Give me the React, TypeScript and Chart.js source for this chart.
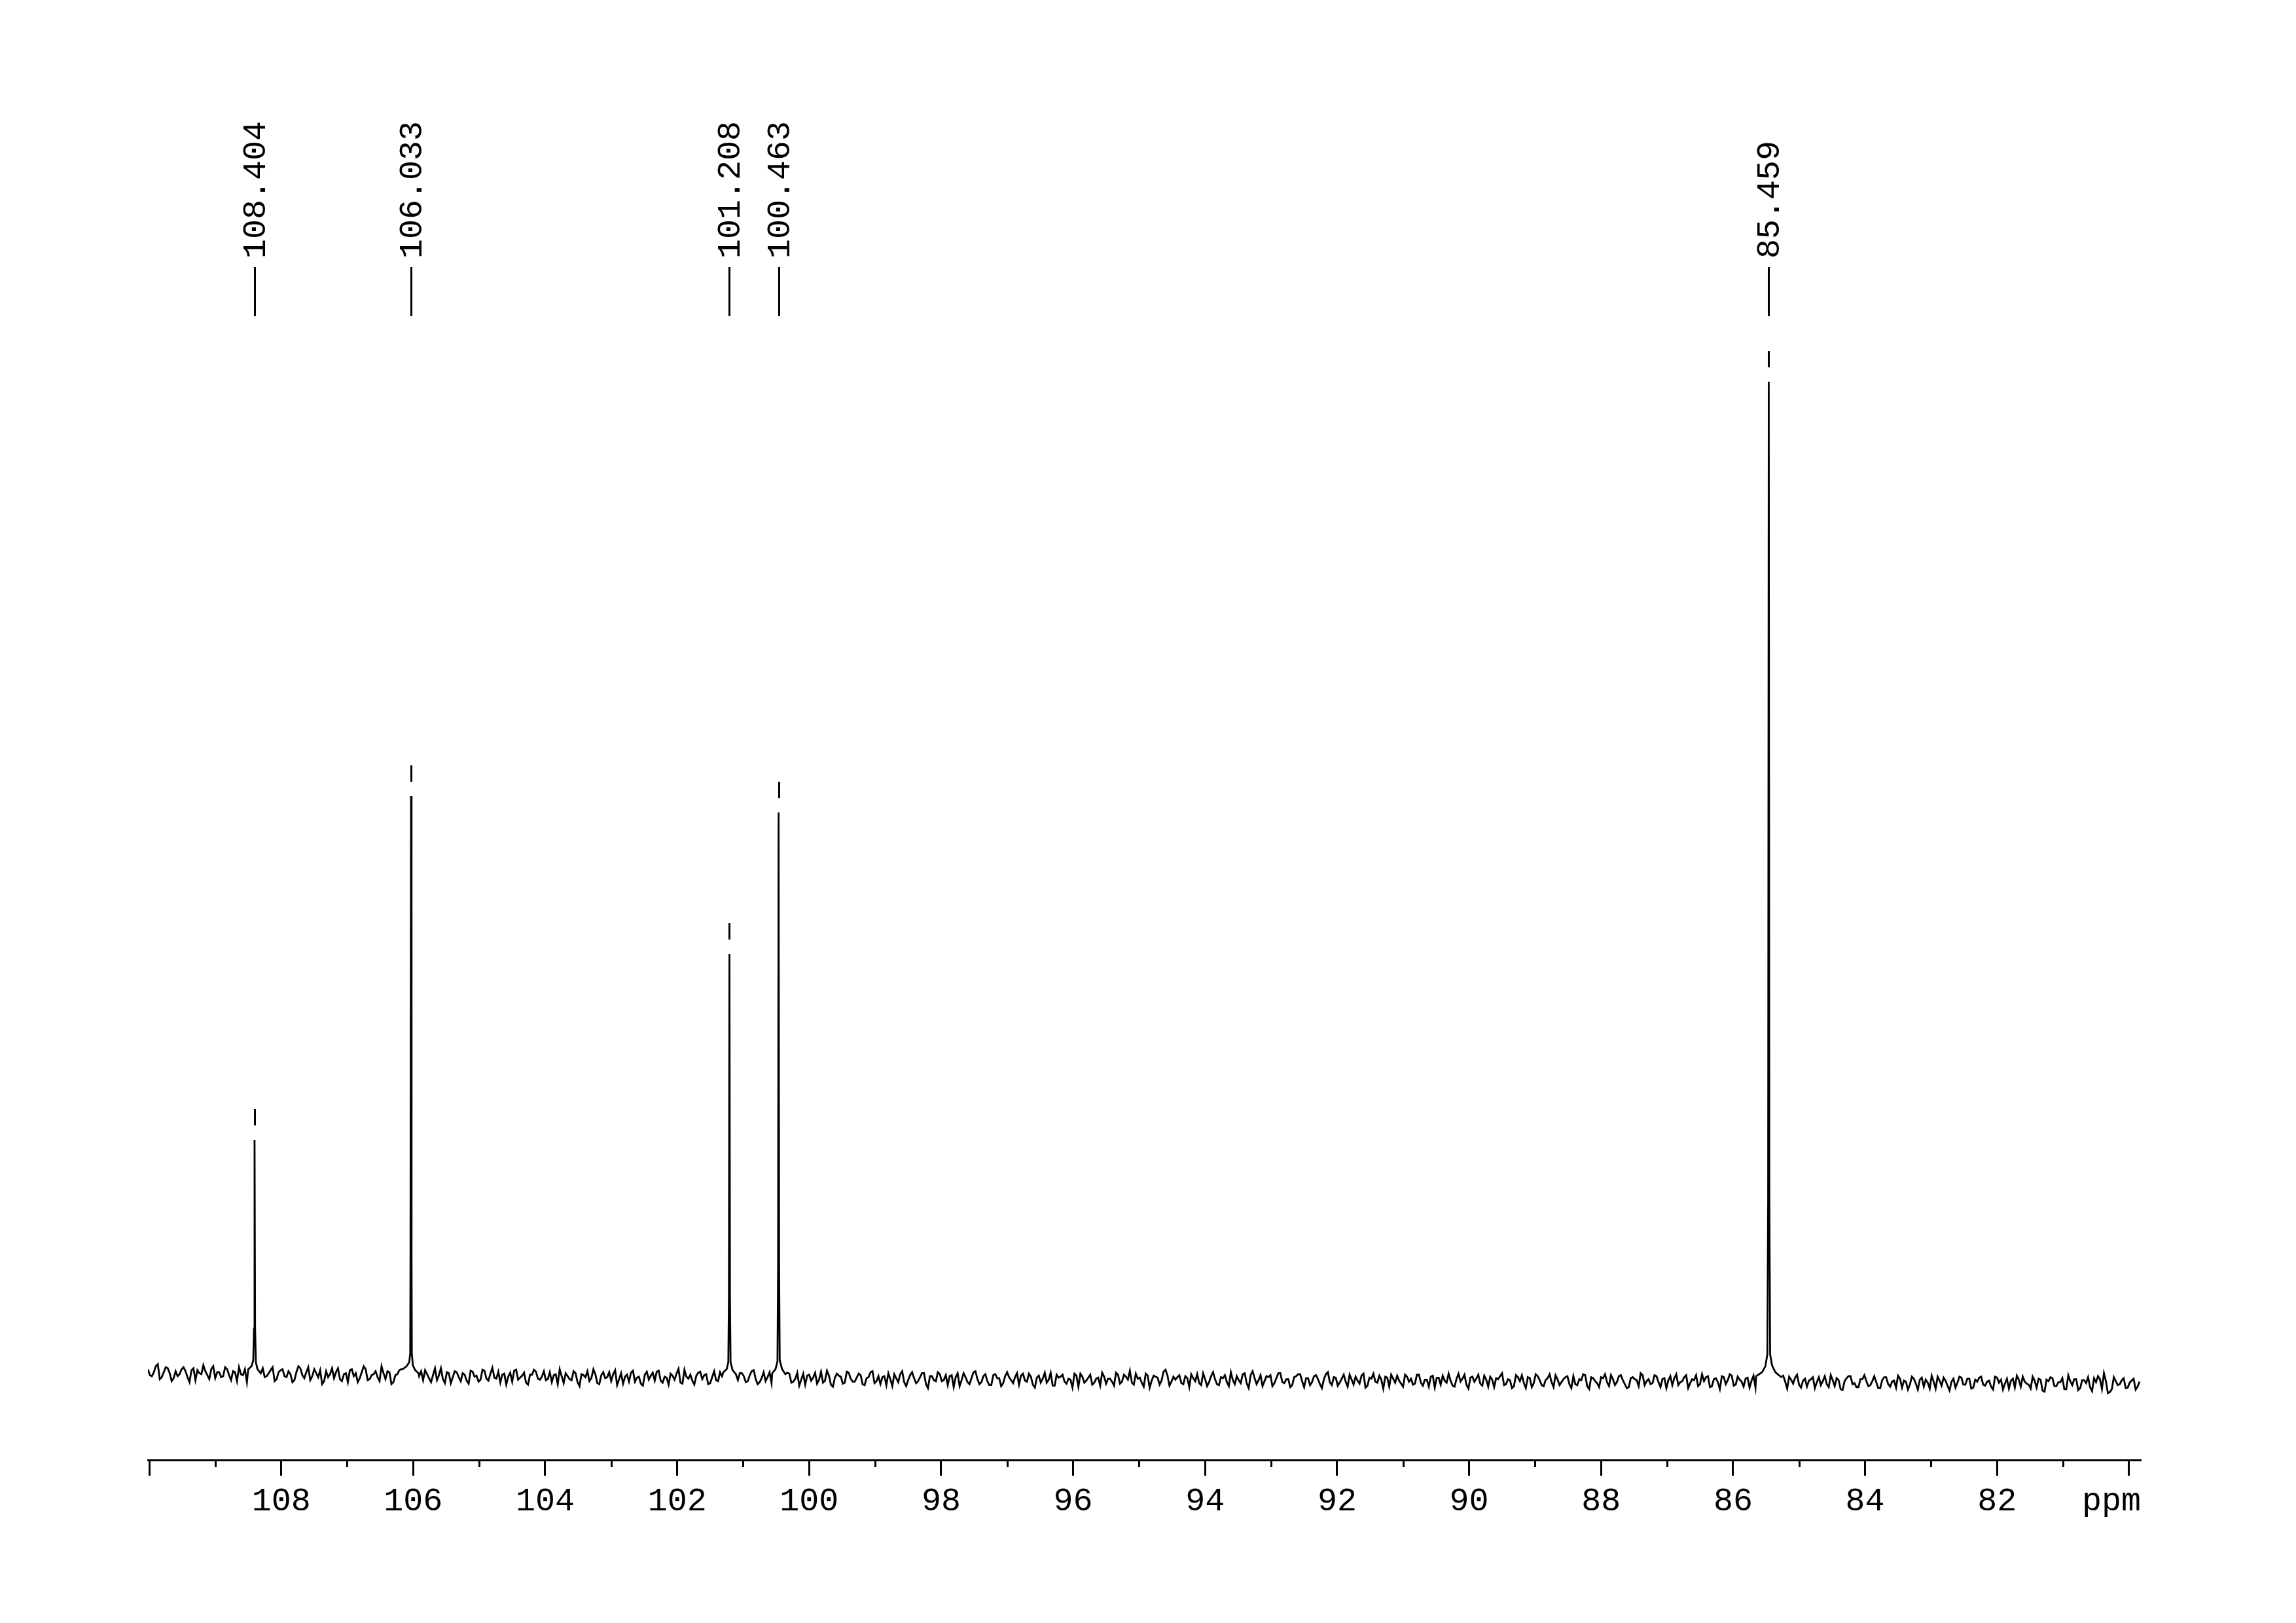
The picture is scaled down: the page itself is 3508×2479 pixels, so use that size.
import React, { useEffect, useRef } from 'react';
import { Chart, registerables } from 'chart.js';

Chart.register(...registerables);

// ---- Data ----
const X_MIN = 79.82;
const X_MAX = 110.02;
const Y_MIN = -8.22;
const Y_MAX = 111.78;

const PEAK_LABELS = ['108.404', '106.033', '101.208', '100.463', '85.459'];
const PEAK_PPM = [108.404, 106.033, 101.208, 100.463, 85.459];
const PEAK_HEIGHT = [23.95, 58.49, 42.63, 56.84, 100.13];

// explicit [ppm, intensity] points describing each peak and its wings
const PEAK_108 = [[108.5, 0.9], [108.45, 1.2], [108.424, 1.8], [108.412, 5.0], [108.404, 23.95], [108.396, 5.0], [108.384, 1.6], [108.36, 0.9], [108.31, 0.5]];
const PEAK_106 = [[106.16, 0.9], [106.1, 1.2], [106.06, 1.6], [106.045, 2.5], [106.041, 12], [106.033, 58.49], [106.025, 12], [106.021, 2.5], [106.005, 1.3], [105.97, 0.8], [105.92, 0.5]];
const PEAK_101 = [[101.3, 0.6], [101.25, 0.9], [101.225, 1.6], [101.216, 8], [101.208, 42.63], [101.2, 8], [101.191, 1.6], [101.16, 0.8], [101.11, 0.4]];
const PEAK_100 = [[100.56, 0.5], [100.51, 0.9], [100.48, 1.7], [100.471, 11], [100.463, 56.84], [100.455, 11], [100.446, 1.8], [100.41, 0.9], [100.36, 0.4]];
const PEAK_85 = [[85.65, 0.2], [85.56, 0.6], [85.51, 1.2], [85.48, 2.4], [85.468, 18], [85.459, 100.13], [85.45, 18], [85.438, 2.4], [85.41, 1.3], [85.36, 0.6], [85.27, 0.1]];

// baseline noise, sampled every NOISE_STEP ppm starting at NOISE_START (A),
// and half a step later (B)
const NOISE_START = 110.02;
const NOISE_STEP = 0.06;
const NOISE_A = [
  0.4, -0.3, 0.7, -0.6, 0.1, 0.5, -0.8, 0.2, -0.1, 0.6, -0.4, 0.3, -0.7, 0.0, 0.8, -0.2, 0.4, -0.5, 0.1, -0.3,
  0.5, -0.6, 0.2, 0.7, -0.1, -0.8, 0.3, 0.1, -0.4, 0.6, -0.2, 0.4, -0.7, 0.2, 0.5, -0.3, 0.0, -0.6, 0.8, -0.1,
  0.3, -0.5, 0.6, -0.2, -0.9, 0.4, 0.1, -0.3, 0.7, -0.6, 0.2, 0.5, -0.1, -0.7, 0.3, 0.6, -0.4, 0.1, -0.2, 0.9,
  -0.3, 0.4, -0.6, 0.2, 0.7, -0.5, 0.0, 0.3, -0.8, 0.5, 0.6, -0.2, 0.1, -0.4, 0.8, -0.7, 0.3, -0.1, 0.4, -0.5,
  0.2, -0.7, 0.5, 0.1, -0.3, 0.6, -0.4, 0.9, -0.2, -0.6, 0.3, 0.0, -0.5, 0.7, -0.1, 0.4, -0.8, 0.2, 0.5, -0.3,
  0.6, -0.2, -0.5, 0.3, 0.8, -0.6, 0.1, -0.3, 0.4, -0.9, 0.2, 0.6, -0.1, 0.3, -0.7, 0.5, 0.0, -0.4, 0.7, -0.2,
  -0.6, 0.3, 0.5, -0.4, 0.1, -0.8, 0.6, 0.2, -0.3, 0.7, -0.5, 0.0, 0.4, -0.2, 0.9, -0.6, 0.1, 0.3, -0.7, 0.5,
  -0.1, 0.4, -0.5, 0.7, -0.3, 0.2, 0.6, -0.8, 0.1, -0.2, 0.5, -0.4, 0.3, 0.8, -0.6, 0.0, -0.3, 0.6, -0.1, 0.4,
  -0.7, 0.2, 0.5, -0.3, 0.6, -0.1, -0.6, 0.4, 0.1, -0.5, 0.7, -0.2, 0.3, -0.8, 0.5, 0.2, -0.4, 0.6, -0.3, 0.1,
  0.4, -0.6, 0.2, 0.8, -0.2, -0.5, 0.3, 0.6, -0.7, 0.1, 0.5, -0.3, -0.1, 0.7, -0.4, 0.2, 0.6, -0.9, 0.3, -0.2,
  0.5, -0.1, -0.6, 0.4, 0.2, -0.7, 0.6, -0.3, 0.1, 0.8, -0.5, 0.3, -0.2, -0.6, 0.5, 0.1, -0.4, 0.7, -0.1, 0.2,
  -0.5, 0.6, -0.2, 0.3, -0.8, 0.4, 0.1, -0.3, 0.7, -0.6, 0.2, 0.5, -0.4, 0.0, 0.6, -0.7, 0.3, -0.1, 0.5, -0.3,
  0.2, 0.7, -0.4, 0.1, -0.6, 0.5, -0.2, 0.3, 0.9, -0.5, 0.1, -0.3, 0.6, -0.8, 0.4, 0.2, -0.1, 1.0, -0.6, 0.3,
  0.3, -0.3, 0.4, -0.7, 0.2, 0.6, -0.5, 0.1, -0.2, 0.8, -0.4, 0.3, 0.5, -0.6, 0.0, 0.4, -0.3, 0.7, -0.8, 0.9,
  -0.4, 0.5, -0.1, 0.3, -0.6, 0.2, 0.7, -0.3, 0.1, -0.5, 0.4, 0.6, -0.7, 0.2, -0.2, 0.5, -0.4, 0.1, 0.8, -0.5,
  0.3, -0.2, 0.6, -0.6, 0.1, 0.4, -0.3, 0.7, -0.5, 0.2, -0.1, 0.5, -0.8, 0.3, 0.6, -0.2, 0.0, -0.6, 0.4, 0.2,
  -0.3, 0.6, -0.5, 0.1, 0.4, -0.7, 0.3, 0.5, -0.2, 0.0, -0.6, 0.7, 0.2, -0.4, 0.3, -0.1, 0.6, -0.5, 0.1, 0.4,
  -0.6, 0.2, 0.8, -0.3, 0.1, -0.5, 0.4, 0.6, -0.7, 0.3, -0.2, 0.5, -0.4, 0.1, 0.7, -0.6, 0.2, -0.1, 0.4, -0.3,
  0.5, -0.4, 0.1, 0.6, -0.8, 0.3, -0.2, 0.4, 0.7, -0.5, 0.2, -0.1, 0.6, -0.3, -0.6, 0.4, 0.1, 0.8, -0.4, 0.2,
  -0.2, 0.5, -0.6, 0.3, 0.1, -0.4, 0.7, -0.1, 0.4, -0.7, 0.2, 0.6, -0.3, 0.0, 0.5, -0.5, 0.3, -0.8, 0.4, 0.1,
  0.6, -0.3, 0.2, -0.5, 0.4, 0.1, -0.6, 0.7, -0.2, 0.3, -0.4, 0.5, -0.1, 0.6, -0.7, 0.2, 0.4, -0.3, 0.1, -0.5,
  0.3, -0.6, 0.5, 0.1, -0.2, 0.7, -0.4, 0.2, -0.8, 0.4, 0.6, -0.1, -0.5, 0.3, 0.1, -0.3, 0.6, -0.6, 0.2, 0.5,
  -0.4, 0.2, 0.7, -0.5, 0.1, -0.2, 0.4, -0.7, 0.5, 0.3, -0.6, 0.1, 0.6, -0.3, 0.2, -0.8, 0.4, 0.0, 0.5, -0.2,
  0.4, -0.5, 0.1, 0.6, -0.3, 0.2, -0.7, 0.5, 0.3, -0.1, -0.6, 0.4, 0.7, -0.4, 0.1, -0.2, 0.6, -0.5, 0.3, -0.9,
  0.2, 0.5, -0.3, 0.1, -0.6, 0.8, -0.2, 0.4, -0.5, 0.3, 0.6, -0.8, 0.1, 0.4, 1.0, -1.0, -0.6, 0.2, -0.1, 0.5,
  -0.4, 0.3, -0.6, 0.2,
];
const NOISE_B = [
  -0.2, 0.1, 0.9, -0.4, 0.6, 0.0, -0.5, -0.3, 0.4, 0.2, -0.9, 0.5, 0.3, -0.1, 0.2, -0.6, 0.7, 0.1, -0.4, 0.6,
  -0.1, 0.3, -0.7, 0.0, 0.5, 0.4, -0.2, 0.8, -0.6, -0.3, 0.1, 0.7, -0.5, 0.4, -0.2, 0.3, -0.8, 0.2, 0.6, -0.4,
  0.8, -0.1, 0.2, 0.5, -0.6, -0.2, 0.7, 0.3, -0.4, 0.1, -0.7, 0.6, 0.2, -0.3, 0.9, -0.5, 0.0, 0.4, -0.6, 0.2,
  0.5, -0.8, 0.1, 0.6, -0.2, 0.3, -0.5, 0.7, 0.0, -0.4, 0.2, -0.6, 0.8, 0.1, -0.3, 0.4, -0.7, 0.5, -0.1, 0.3,
  -0.4, 0.6, 0.0, -0.5, 0.7, -0.2, 0.3, -0.1, 0.5, 0.2, -0.8, 0.4, 0.6, -0.3, 0.1, -0.6, 0.2, 0.7, -0.2, 0.0,
  -0.3, 0.5, 0.2, -0.7, 0.1, 0.4, -0.2, 0.6, -0.5, 0.3, 0.0, -0.4, 0.8, -0.6, 0.2, -0.1, 0.5, 0.3, -0.8, 0.4,
  0.1, -0.4, 0.7, 0.0, -0.6, 0.3, -0.2, 0.5, 0.6, -0.3, 0.1, -0.7, 0.2, 0.4, -0.5, 0.8, -0.1, -0.3, 0.2, 0.6,
  0.3, -0.6, 0.1, -0.2, 0.6, -0.5, 0.4, 0.0, -0.7, 0.5, 0.2, -0.3, 0.7, -0.1, -0.4, 0.6, 0.1, -0.5, 0.3, -0.2,
  0.2, 0.6, -0.4, 0.0, -0.7, 0.5, 0.3, -0.2, 0.6, -0.1, -0.4, 0.8, -0.6, 0.1, 0.3, -0.5, 0.7, 0.0, -0.3, 0.5,
  -0.5, 0.1, 0.7, -0.4, 0.3, 0.2, -0.6, 0.0, 0.5, -0.3, 0.8, -0.7, 0.4, 0.1, -0.2, 0.6, -0.5, 0.3, -0.1, 0.7,
  -0.2, 0.4, 0.3, -0.8, 0.6, -0.1, 0.2, -0.5, 0.7, 0.0, -0.3, 0.5, -0.6, 0.4, 0.1, -0.7, 0.3, 0.2, -0.4, 0.6,
  0.4, -0.1, 0.6, -0.5, 0.2, -0.3, 0.7, 0.0, -0.6, 0.5, 0.3, -0.2, 0.1, -0.8, 0.4, 0.6, -0.3, 0.2, -0.5, 0.1,
  -0.6, 0.3, 0.1, -0.2, 0.7, -0.4, 0.5, 0.0, -0.3, 0.6, 0.2, -0.7, 0.4, -0.1, 0.3, -0.5, 0.8, 0.4, -0.2, 0.0,
  0.5, -0.4, 0.2, 0.6, -0.1, -0.3, 0.7, -0.6, 0.4, 0.1, -0.5, 0.2, -0.2, 0.8, -0.4, 0.0, 0.6, -0.3, 0.5, 0.2,
  0.0, -0.6, 0.4, 0.5, -0.3, 0.7, -0.2, 0.1, -0.7, 0.3, 0.6, -0.1, 0.2, -0.5, 0.4, 0.1, -0.8, 0.6, -0.2, 0.3,
  -0.5, 0.2, -0.1, 0.6, -0.4, 0.0, 0.5, -0.7, 0.3, 0.7, -0.2, 0.1, 0.4, -0.6, 0.2, 0.5, -0.3, 0.6, -0.1, -0.4,
  0.6, -0.2, 0.1, -0.6, 0.5, 0.3, -0.4, 0.0, 0.7, -0.5, 0.2, -0.1, 0.6, -0.8, 0.4, 0.2, -0.3, 0.5, -0.6, 0.1,
  0.3, 0.5, -0.4, 0.2, -0.7, 0.6, 0.0, -0.2, 0.4, -0.6, 0.7, 0.1, -0.5, 0.3, -0.1, 0.6, -0.4, 0.2, 0.5, -0.7,
  -0.3, 0.2, 0.7, -0.5, 0.4, 0.0, -0.6, 0.3, -0.1, 0.6, -0.4, 0.5, 0.1, -0.7, 0.3, 0.2, -0.5, 0.6, 0.0, -0.3,
  0.6, -0.1, 0.2, -0.7, 0.5, 0.3, -0.4, 0.0, 0.6, -0.2, 0.1, -0.5, 0.7, 0.4, -0.6, 0.2, -0.1, 0.5, -0.3, 0.7,
  -0.4, 0.5, 0.0, 0.3, -0.6, 0.6, 0.2, -0.3, 0.4, -0.7, 0.1, 0.6, -0.4, 0.0, 0.5, -0.2, 0.7, -0.6, 0.3, 0.1,
  0.5, 0.0, -0.3, 0.6, -0.5, 0.2, 0.4, -0.7, 0.1, 0.6, -0.2, -0.5, 0.3, 0.7, -0.4, 0.1, 0.0, -0.6, 0.5, -0.2,
  0.1, -0.5, 0.4, 0.2, -0.7, 0.6, -0.1, 0.3, -0.4, 0.0, 0.7, -0.6, 0.2, 0.5, -0.3, 0.1, -0.5, 0.6, -0.2, 0.4,
  -0.6, 0.3, 0.5, -0.2, 0.1, -0.4, 0.6, 0.0, -0.7, 0.4, 0.2, -0.5, 0.3, 0.6, -0.1, -0.6, 0.2, 0.4, -0.8, 0.3,
  0.6, -0.3, 0.1, 0.5, -0.6, 0.2, 0.4, -0.7, 0.3, 0.0, -0.4, 0.5, 0.7, -0.6, 0.2, -0.9, 0.6, -0.2, 0.3, -0.5,
  0.1, 0.5, -0.3, 0.4,
];
// slow baseline drift, one value per block of 20 noise samples
const BASELINE_DRIFT = [0.5, 0.4, 0.3, 0.2, 0.15, 0.1, 0.05, 0.0, -0.05, -0.1, -0.1, -0.15, -0.15, -0.2, -0.2, -0.25, -0.25, -0.3, -0.3, -0.3, -0.35, -0.4, -0.45, -0.45, -0.5, -0.55];

const PEAK_SHAPES = [PEAK_108, PEAK_106, PEAK_101, PEAK_100, PEAK_85];

function buildSpectrum() {
  const ranges = PEAK_SHAPES.map((s) => [Math.min(...s.map((p) => p[0])), Math.max(...s.map((p) => p[0]))]);
  const pts: { x: number; y: number }[] = [];
  const addNoise = (arr: number[], offset: number) => {
    arr.forEach((v, i) => {
      const x = NOISE_START - (i + offset) * NOISE_STEP;
      if (x < X_MIN) return;
      const inPeak = ranges.some(([lo, hi]) => x >= lo - 0.005 && x <= hi + 0.005);
      if (!inPeak) pts.push({ x, y: v + BASELINE_DRIFT[Math.floor(i / 20)] });
    });
  };
  addNoise(NOISE_A, 0);
  addNoise(NOISE_B, 0.5);
  PEAK_SHAPES.forEach((s) => s.forEach(([x, y]) => pts.push({ x, y })));
  pts.sort((a, b) => b.x - a.x);
  return pts;
}

const FONT = '"Liberation Mono", "DejaVu Sans Mono", monospace';

const decorations = {
  id: 'nmrDecorations',
  afterDraw(chart: any) {
    const { ctx, chartArea } = chart;
    const xs = chart.scales.x;
    const ys = chart.scales.y;
    ctx.save();
    ctx.strokeStyle = '#000';
    ctx.fillStyle = '#000';
    ctx.lineWidth = 3;
    // minor ticks
    xs.ticks.forEach((t: any) => {
      if (Math.round(t.value) % 2 !== 0) {
        const px = Math.round(xs.getPixelForValue(t.value)) + 0.5;
        ctx.beginPath();
        ctx.moveTo(px, chartArea.bottom);
        ctx.lineTo(px, chartArea.bottom + 11);
        ctx.stroke();
      }
    });
    // unit label
    ctx.font = `50px ${FONT}`;
    ctx.textAlign = 'right';
    ctx.textBaseline = 'alphabetic';
    ctx.fillText('ppm', chartArea.right, chartArea.bottom + 77);
    // peak labels, leader lines and markers
    PEAK_PPM.forEach((ppm, i) => {
      const px = Math.round(xs.getPixelForValue(ppm)) + 0.5;
      ctx.beginPath();
      ctx.moveTo(px, 408);
      ctx.lineTo(px, 483);
      ctx.stroke();
      const py = ys.getPixelForValue(PEAK_HEIGHT[i]);
      ctx.beginPath();
      ctx.moveTo(px, py - 47);
      ctx.lineTo(px, py - 22);
      ctx.stroke();
      ctx.save();
      ctx.translate(px, 395);
      ctx.rotate(-Math.PI / 2);
      ctx.textAlign = 'left';
      ctx.textBaseline = 'alphabetic';
      ctx.fillText(PEAK_LABELS[i], 0, 15);
      ctx.restore();
    });
    ctx.restore();
  },
};

export default function App() {
  const ref = useRef<HTMLCanvasElement>(null);
  useEffect(() => {
    if (!ref.current) return;
    const chart = new Chart(ref.current, {
      type: 'line',
      data: {
        datasets: [
          {
            data: buildSpectrum(),
            borderColor: '#000',
            borderWidth: 2.8,
            pointRadius: 0,
            tension: 0,
            fill: false,
          },
        ],
      },
      options: {
        animation: false,
        responsive: false,
        devicePixelRatio: 1,
        layout: { padding: { left: 226, right: 237, top: 406, bottom: 0 } },
        plugins: { legend: { display: false }, tooltip: { enabled: false } },
        scales: {
          x: {
            type: 'linear',
            reverse: true,
            min: X_MIN,
            max: X_MAX,
            afterFit: (s: any) => {
              s.height = 249;
            },
            border: { display: true, color: '#000', width: 3 },
            grid: {
              display: true,
              drawOnChartArea: false,
              drawTicks: true,
              tickLength: 24,
              tickWidth: 3,
              tickColor: (c: any) => (c.tick && Math.round(c.tick.value) % 2 === 0 ? '#000' : 'rgba(0,0,0,0)'),
            },
            ticks: {
              stepSize: 1,
              includeBounds: false,
              autoSkip: false,
              maxRotation: 0,
              minRotation: 0,
              padding: 10,
              color: '#000',
              font: { family: FONT, size: 50 },
              callback: (v: any) => {
                const n = Math.round(Number(v));
                return n % 2 === 0 && n > 80 && n < 110 ? String(n) : '';
              },
            },
          },
          y: { type: 'linear', display: false, min: Y_MIN, max: Y_MAX },
        },
      },
      plugins: [decorations],
    });
    return () => chart.destroy();
  }, []);
  return (
    <div style={{ position: 'fixed', left: 0, top: 0, width: 3508, height: 2479, background: '#fff' }}>
      <canvas ref={ref} width={3508} height={2479} style={{ width: 3508, height: 2479, display: 'block' }} />
    </div>
  );
}
